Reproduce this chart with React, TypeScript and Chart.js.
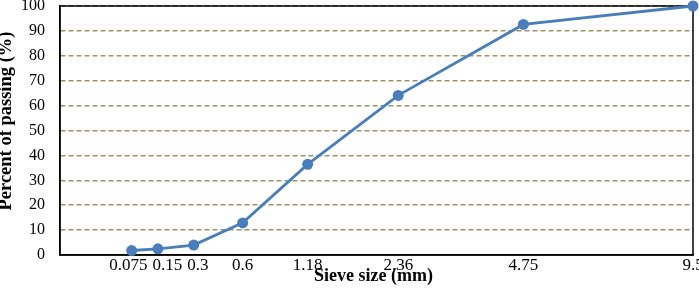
import React, { useEffect, useRef } from "react";
import { Chart, registerables } from "chart.js";

Chart.register(...registerables);

const sieveSizes = [0.075, 0.15, 0.3, 0.6, 1.18, 2.36, 4.75, 9.5];
const sieveLabels = ["0.075", "0.15", "0.3", "0.6", "1.18", "2.36", "4.75", "9.5"];
const percentPassing = [1.8, 2.5, 4.0, 12.9, 36.4, 64.1, 92.6, 100];
const yTicks = [0, 10, 20, 30, 40, 50, 60, 70, 80, 90, 100];
const xTitle = "Sieve size (mm)";
const yTitle = "Percent of passing (%)";
const POWER = 0.45;

const FONT = "'Liberation Serif', 'Times New Roman', serif";

const borderPlugin = {
  id: "boxBorder",
  beforeDatasetsDraw(chart: any) {
    const { ctx, chartArea } = chart;
    ctx.save();
    ctx.strokeStyle = "#000";
    ctx.lineWidth = 1.5;
    ctx.setLineDash([]);
    ctx.strokeRect(chartArea.left, chartArea.top, chartArea.right - chartArea.left, chartArea.bottom - chartArea.top);
    ctx.restore();
  },
  afterDraw(chart: any) {
    const { ctx, chartArea } = chart;
    const xs = chart.scales.x;
    ctx.save();
    ctx.fillStyle = "#000";
    // x tick labels with simple overlap avoidance
    ctx.font = `17px ${FONT}`;
    ctx.textAlign = "center";
    ctx.textBaseline = "alphabetic";
    const gap = 5;
    const items = sieveSizes.map((s, i) => ({
      text: sieveLabels[i],
      c: xs.getPixelForValue(Math.pow(s, POWER)),
      w: ctx.measureText(sieveLabels[i]).width,
    }));
    const pos = items.map((it) => it.c);
    const clusterId: number[] = [0];
    let cid = 0;
    for (let i = 1; i < items.length; i++) {
      const minC = pos[i - 1] + items[i - 1].w / 2 + gap + items[i].w / 2;
      if (pos[i] < minC) {
        pos[i] = minC;
      } else {
        cid++;
      }
      clusterId.push(cid);
    }
    for (let k = 0; k <= cid; k++) {
      const idx = clusterId.map((c, i) => (c === k ? i : -1)).filter((i) => i >= 0);
      if (idx.length < 2) continue;
      const mean = idx.reduce((a, i) => a + (pos[i] - items[i].c), 0) / idx.length;
      idx.forEach((i) => (pos[i] -= mean / 2));
    }
    items.forEach((it, i) => ctx.fillText(it.text, pos[i], chartArea.bottom + 15));
    // x title
    ctx.font = `bold 18px ${FONT}`;
    ctx.fillText(xTitle, (chartArea.left + chartArea.right) / 2 - 3, chartArea.bottom + 26);
    // y title
    ctx.font = `bold 18.5px ${FONT}`;
    ctx.translate(6, 121);
    ctx.rotate(-Math.PI / 2);
    ctx.textBaseline = "middle";
    ctx.fillText(yTitle, 0, 0);
    ctx.restore();
  },
};

export default function App() {
  const ref = useRef<HTMLCanvasElement>(null);
  useEffect(() => {
    const canvas = ref.current!;
    const chart = new Chart(canvas, {
      type: "line",
      data: {
        datasets: [
          {
            data: sieveSizes.map((s, i) => ({ x: Math.pow(s, POWER), y: percentPassing[i] })),
            borderColor: "#4A7EBB",
            backgroundColor: "#4A7EBB",
            borderWidth: 2.8,
            pointRadius: 5.5,
            pointHoverRadius: 5.5,
            pointBorderWidth: 0,
            tension: 0,
            clip: false as any,
          },
        ],
      },
      options: {
        responsive: false,
        animation: false,
        layout: { padding: { top: 6, right: 6, left: 0, bottom: 0 } },
        plugins: { legend: { display: false }, tooltip: { enabled: false } },
        scales: {
          x: {
            type: "linear",
            min: 0,
            max: Math.pow(9.5, POWER),
            grid: { display: false, drawTicks: false },
            border: { display: true, color: "#000", width: 1.5 },
            afterBuildTicks: (scale: any) => {
              scale.ticks = sieveSizes.map((s) => ({ value: Math.pow(s, POWER) }));
            },
            afterFit: (scale: any) => {
              scale.height = 34;
              scale.paddingLeft = 0;
              scale.paddingRight = 0;
            },
            ticks: { display: false },
            title: { display: false },
          },
          y: {
            type: "linear",
            min: 0,
            max: 100,
            afterBuildTicks: (scale: any) => {
              scale.ticks = yTicks.map((v) => ({ value: v }));
            },
            afterFit: (scale: any) => {
              scale.width = 60;
              scale.paddingTop = 0;
              scale.paddingBottom = 0;
            },
            grid: {
              drawTicks: false,
              color: "#9C9468",
              lineWidth: 1.5,
            },
            border: { display: true, color: "#000", width: 1.5, dash: [5, 3] },
            ticks: {
              padding: 15,
              color: "#000",
              font: { family: FONT, size: 16, lineHeight: 1 },
            },
            title: { display: false },
          },
        },
      },
      plugins: [borderPlugin],
    });
    return () => chart.destroy();
  }, []);
  return (
    <canvas
      ref={ref}
      width={699}
      height={289}
      style={{ position: "fixed", left: 0, top: 0, width: 699, height: 289, display: "block", background: "#fff" }}
    />
  );
}
